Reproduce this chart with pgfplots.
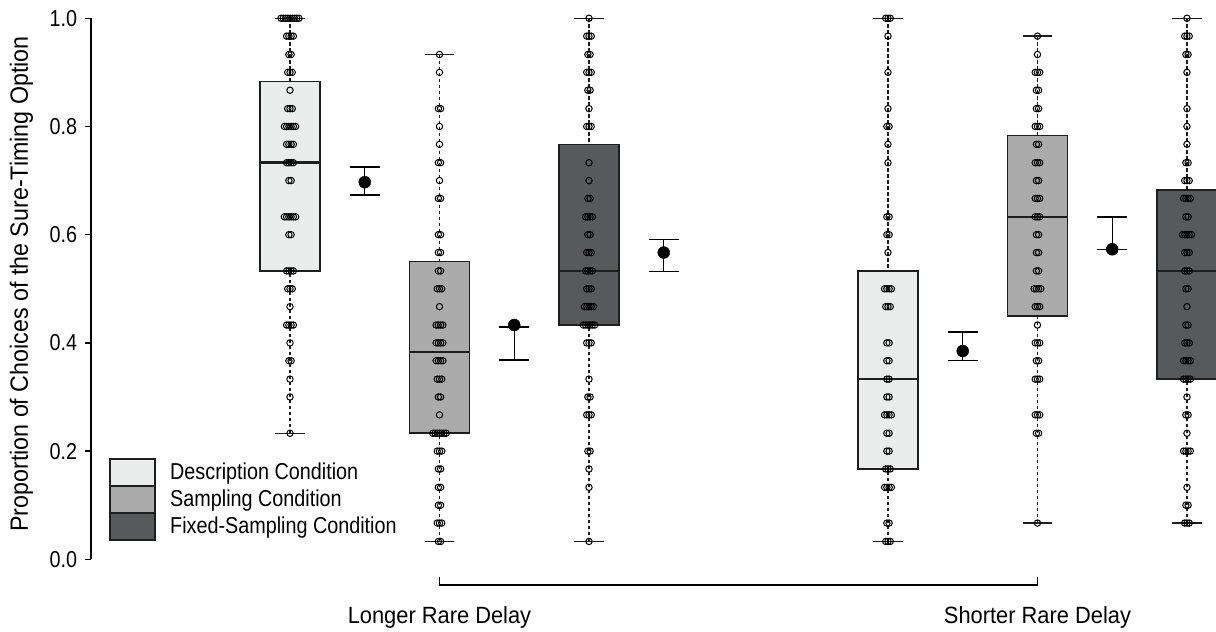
\documentclass[border=0pt]{standalone}
\usepackage{fontspec}
\setmainfont{Liberation Sans}[FakeStretch=0.86]
\newfontfamily\labelfont{Liberation Sans}[FakeStretch=0.93]
\usepackage{pgfplots}
\pgfplotsset{compat=1.18}
\usepgfplotslibrary{statistics}
\definecolor{cdesc}{HTML}{EBECEC}
\definecolor{csamp}{HTML}{ABABAB}
\definecolor{cfix}{HTML}{58595B}
\definecolor{cedge}{HTML}{1E1E1E}

% jittered raw points: value/count for each box (position given first)
\newcommand\jitterpts{}
\newcommand\dotset[2]{%
  \foreach \yy/\nn in {#2}{%
    \foreach \k in {1,...,\nn}{%
      \pgfmathsetmacro\xx{#1+(\k-(\nn+1)/2)*0.015}%
      \xdef\jitterpts{\jitterpts (\xx,\yy)}%
    }%
  }%
}
% Description, longer rare delay
\dotset{1}{1/9, 0.967/4, 0.933/2, 0.9/3, 0.867/1, 0.833/3, 0.8/6, 0.767/4, 0.733/4, 0.7/2, 0.633/6, 0.6/2, 0.533/4, 0.5/3, 0.467/1, 0.433/4, 0.4/1, 0.367/2, 0.333/1, 0.3/1, 0.233/1}
% Sampling, longer
\dotset{2}{0.933/1, 0.9/1, 0.833/2, 0.8/1, 0.767/1, 0.733/2, 0.7/1, 0.667/2, 0.6/2, 0.567/2, 0.533/2, 0.5/3, 0.467/1, 0.433/4, 0.4/4, 0.367/4, 0.333/3, 0.3/2, 0.267/1, 0.233/7, 0.2/3, 0.167/2, 0.133/2, 0.1/2, 0.067/3, 0.033/2}
% Fixed sampling, longer
\dotset{3}{1/1, 0.967/3, 0.933/2, 0.9/3, 0.867/2, 0.833/1, 0.8/3, 0.733/1, 0.7/1, 0.667/2, 0.633/4, 0.6/2, 0.567/3, 0.533/4, 0.5/3, 0.467/5, 0.433/6, 0.4/3, 0.333/1, 0.3/2, 0.267/3, 0.2/2, 0.167/1, 0.133/1, 0.033/1}
% Description, shorter
\dotset{5}{1/3, 0.967/1, 0.9/1, 0.833/1, 0.8/2, 0.767/1, 0.733/1, 0.633/2, 0.6/2, 0.567/1, 0.5/4, 0.467/3, 0.4/2, 0.367/2, 0.333/2, 0.3/2, 0.267/4, 0.233/2, 0.2/2, 0.167/3, 0.133/4, 0.067/2, 0.033/3}
% Sampling, shorter
\dotset{6}{0.967/1, 0.933/1, 0.9/3, 0.867/2, 0.833/2, 0.8/3, 0.767/2, 0.733/3, 0.7/2, 0.667/3, 0.633/3, 0.6/2, 0.567/2, 0.533/2, 0.5/4, 0.467/3, 0.433/1, 0.4/3, 0.367/2, 0.333/3, 0.267/3, 0.233/2, 0.067/1}
% Fixed sampling, shorter
\dotset{7}{1/1, 0.967/3, 0.933/2, 0.9/1, 0.833/1, 0.8/1, 0.767/1, 0.733/2, 0.7/3, 0.667/4, 0.633/2, 0.6/5, 0.567/3, 0.533/3, 0.5/2, 0.467/1, 0.433/2, 0.4/3, 0.367/4, 0.333/4, 0.3/1, 0.267/2, 0.233/1, 0.2/4, 0.133/1, 0.1/2, 0.067/3}

\pgfplotsset{
  boxplot/draw direction=y,
  boxplot/every box/.style={line width=1.5bp},
  boxplot/every median/.style={line width=2.6bp},
  boxplot/draw/lower whisker/.code={%
    \draw[line width=1.3bp, dash pattern=on 3.5bp off 2.5bp]
      (boxplot box cs:\pgfplotsboxplotvalue{lower whisker},0.5) --
      (boxplot box cs:\pgfplotsboxplotvalue{lower quartile},0.5);
    \draw[line width=1.4bp, solid]
      (boxplot whisker cs:\pgfplotsboxplotvalue{lower whisker},0) --
      (boxplot whisker cs:\pgfplotsboxplotvalue{lower whisker},1);
  },
  boxplot/draw/upper whisker/.code={%
    \draw[line width=1.3bp, dash pattern=on 3.5bp off 2.5bp]
      (boxplot box cs:\pgfplotsboxplotvalue{upper whisker},0.5) --
      (boxplot box cs:\pgfplotsboxplotvalue{upper quartile},0.5);
    \draw[line width=1.4bp, solid]
      (boxplot whisker cs:\pgfplotsboxplotvalue{upper whisker},0) --
      (boxplot whisker cs:\pgfplotsboxplotvalue{upper whisker},1);
  },
}

\begin{document}
\fontsize{23bp}{27bp}\selectfont
\begin{tikzpicture}[x=1bp,y=1bp]
\begin{axis}[
  scale only axis, width=1125bp, height=585bp,
  xmin=-0.3311, xmax=7.194, ymin=-0.0475, ymax=1.0338,
  axis x line=none, axis y line*=left, axis line style={draw=none},
  ytick={0,0.2,0.4,0.6,0.8,1},
  /pgf/number format/assume math mode=true,
  yticklabel style={/pgf/number format/.cd, fixed, fixed zerofill, precision=1},
  tick align=outside, major tick length=6bp,
  tick style={line width=1.3bp, black},
  clip=false,
]
% boxes
\addplot[draw=cedge, fill=cdesc, boxplot prepared={draw position=1, lower whisker=0.233, lower quartile=0.533, median=0.733, upper quartile=0.883, upper whisker=1.0, box extend=0.4, whisker extend=0.2}] coordinates {};
\addplot[draw=cedge, fill=csamp, boxplot prepared={draw position=2, lower whisker=0.033, lower quartile=0.233, median=0.383, upper quartile=0.55, upper whisker=0.933, box extend=0.4, whisker extend=0.2}] coordinates {};
\addplot[draw=cedge, fill=cfix, boxplot prepared={draw position=3, lower whisker=0.033, lower quartile=0.433, median=0.533, upper quartile=0.767, upper whisker=1.0, box extend=0.4, whisker extend=0.2}] coordinates {};
\addplot[draw=cedge, fill=cdesc, boxplot prepared={draw position=5, lower whisker=0.033, lower quartile=0.167, median=0.333, upper quartile=0.533, upper whisker=1.0, box extend=0.4, whisker extend=0.2}] coordinates {};
\addplot[draw=cedge, fill=csamp, boxplot prepared={draw position=6, lower whisker=0.067, lower quartile=0.45, median=0.633, upper quartile=0.783, upper whisker=0.967, box extend=0.4, whisker extend=0.2}] coordinates {};
\addplot[draw=cedge, fill=cfix, boxplot prepared={draw position=7, lower whisker=0.067, lower quartile=0.333, median=0.533, upper quartile=0.683, upper whisker=1.0, box extend=0.4, whisker extend=0.2}] coordinates {};
% raw points
\edef\tmp{\noexpand\addplot[only marks, mark=o, mark size=3.2bp, mark options={line width=1bp, black}] coordinates {\jitterpts};}
\tmp
% means with error bars
\addplot[only marks, mark=*, mark size=6bp, black,
  error bars/.cd, y dir=both, y explicit, error mark=|,
  error mark options={mark size=15bp, line width=1.4bp, black},
  error bar style={line width=1.4bp, black}]
  coordinates {
  (1.5,0.697) += (0,0.028) -= (0,0.024)
  (2.5,0.433) += (0,-0.004) -= (0,0.065)
  (3.5,0.567) += (0,0.024) -= (0,0.035)
  (5.5,0.385) += (0,0.035) -= (0,0.018)
  (6.5,0.573) += (0,0.060) -= (0,0.0)
  };
% axis lines
\draw[line width=1.3bp] (axis cs:-0.3311,0) -- (axis cs:-0.3311,1);
\draw[line width=1.3bp] ([yshift=8bp]axis cs:2,-0.0475) -- (axis cs:2,-0.0475) -- (axis cs:6,-0.0475) -- ([yshift=8bp]axis cs:6,-0.0475);
\node[anchor=base, inner sep=0, font=\labelfont\fontsize{23.5bp}{28bp}\selectfont] at ([yshift=-39bp]axis cs:2,-0.0475) {Longer Rare Delay};
\node[anchor=base, inner sep=0, font=\labelfont\fontsize{23.5bp}{28bp}\selectfont] at ([yshift=-39bp]axis cs:6,-0.0475) {Shorter Rare Delay};
\end{axis}
% legend
\draw[fill=cdesc, draw=cedge, line width=1.3bp] (19,99) rectangle (64,126);
\draw[fill=csamp, draw=cedge, line width=1.3bp] (19,72) rectangle (64,99);
\draw[fill=cfix, draw=cedge, line width=1.3bp] (19,45) rectangle (64,72);
\node[anchor=base west, inner sep=0] at (79,105) {Description Condition};
\node[anchor=base west, inner sep=0] at (79,78) {Sampling Condition};
\node[anchor=base west, inner sep=0] at (79,51) {Fixed-Sampling Condition};
% y label
\node[rotate=90, anchor=base, inner sep=0, font=\labelfont\fontsize{25bp}{30bp}\selectfont] at (-63,301) {Proportion of Choices of the Sure-Timing Option};
\pgfresetboundingbox
\path (-91,-47) rectangle (1125,585);
\end{tikzpicture}
\end{document}
